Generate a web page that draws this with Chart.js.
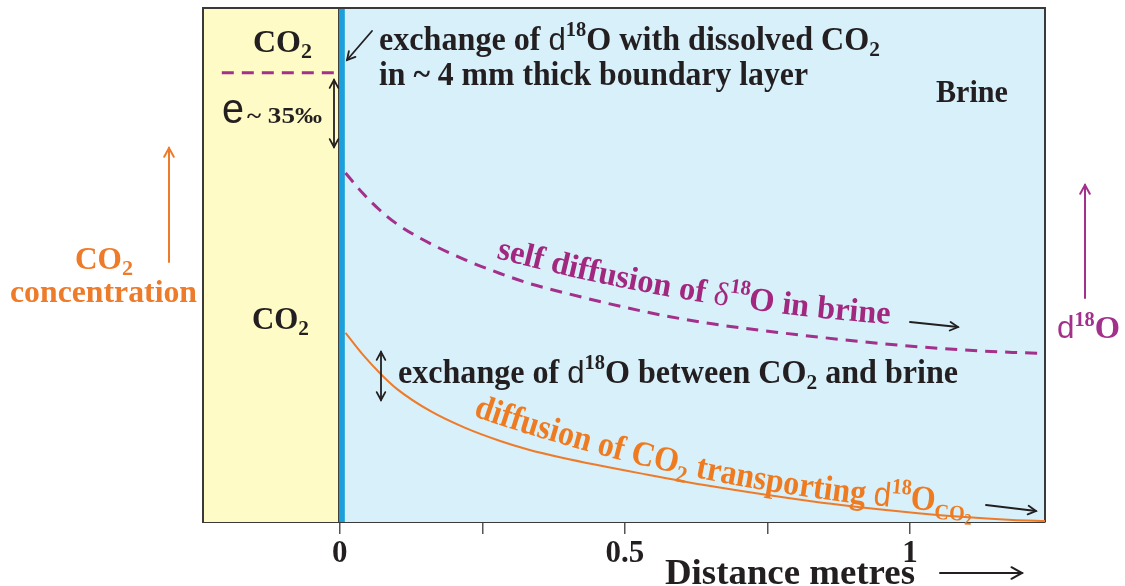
<!DOCTYPE html>
<html>
<head>
<meta charset="utf-8">
<script src="https://cdn.jsdelivr.net/npm/chart.js@4/dist/chart.umd.min.js"></script>
<style>
  html, body { margin: 0; padding: 0; background: #fff; }
</style>
</head>
<body>
<canvas id="diffChart" width="1125" height="586"></canvas>
<script>
// distance from the CO2 / brine interface (metres)
const distance = [0.01, 0.04, 0.07, 0.10, 0.16, 0.22, 0.28, 0.33, 0.39, 0.54, 0.65, 0.83, 0.98, 1.09, 1.18, 1.24];
// d18O of brine (relative units, dashed curve)
const d18oBrine = [67.9, 64.0, 60.7, 58.0, 54.1, 51.0, 48.4, 46.5, 44.7, 40.8, 38.6, 36.1, 34.4, 33.5, 33.0, 32.8];
// CO2 concentration (relative units, solid curve)
const co2Conc = [36.8, 32.6, 29.0, 25.9, 21.5, 18.3, 15.8, 14.1, 12.5, 9.2, 7.0, 4.0, 2.1, 1.0, 0.4, 0.2];
// d18O level of the gas phase CO2 (dashed line in the CO2 zone)
const gasX = [-0.207, -0.004];
const gasD18o = [87.4, 87.4];

const xTicks = [0, 0.25, 0.5, 0.75, 1];
const xTickLabels = ['0', '', '0.5', '', '1'];
const xMin = -0.24, xMax = 1.237;
const interfaceX = 0;

const PURPLE = '#a3308a';
const ORANGE = '#ee7b2a';
const INK = '#231f20';
const SERIF = '"Liberation Serif", "Times New Roman", serif';
const SANS = '"Liberation Sans", Arial, sans-serif';

function bold(px) { return 'bold ' + px + 'px ' + SERIF; }
function sans(px) { return px + 'px ' + SANS; }

// draw a row of text pieces (super / subscripts), squeezed to a width
function drawRich(ctx, runs, x, y, width, color) {
  let w = 0;
  runs.forEach(r => { ctx.font = r.font; w += ctx.measureText(r.t).width; });
  const sx = width ? width / w : 1;
  ctx.save();
  ctx.translate(x, y);
  ctx.scale(sx, 1);
  let cx = 0;
  runs.forEach(r => {
    ctx.font = r.font;
    ctx.fillStyle = r.color || color;
    ctx.fillText(r.t, cx, r.dy || 0);
    cx += ctx.measureText(r.t).width;
  });
  ctx.restore();
}

// text that bends along a gentle arc (angle goes from a0 to a1 degrees)
function drawOnArc(ctx, runs, x, y, a0, a1, length, color) {
  const chars = [];
  runs.forEach(r => {
    ctx.font = r.font;
    for (const ch of r.t) chars.push({ ch, font: r.font, dy: r.dy || 0, w: ctx.measureText(ch).width });
  });
  const total = chars.reduce((s, c) => s + c.w, 0);
  const sx = length / total;
  let px = x, py = y, s = 0;
  chars.forEach(c => {
    const w = c.w * sx;
    const a = (a0 + (a1 - a0) * (s + w / 2) / length) * Math.PI / 180;
    ctx.save();
    ctx.translate(px, py);
    ctx.rotate(a);
    ctx.scale(sx, 1);
    ctx.font = c.font;
    ctx.fillStyle = color;
    ctx.fillText(c.ch, 0, c.dy);
    ctx.restore();
    px += w * Math.cos(a);
    py += w * Math.sin(a);
    s += w;
  });
}

function arrowHead(ctx, x1, y1, x2, y2, size) {
  const a = Math.atan2(y2 - y1, x2 - x1);
  ctx.beginPath();
  ctx.moveTo(x2 - size * Math.cos(a - 0.5), y2 - size * Math.sin(a - 0.5));
  ctx.lineTo(x2, y2);
  ctx.lineTo(x2 - size * Math.cos(a + 0.5), y2 - size * Math.sin(a + 0.5));
  ctx.stroke();
}

function arrow(ctx, x1, y1, x2, y2, color, lw, size, both) {
  ctx.save();
  ctx.strokeStyle = color;
  ctx.lineWidth = lw;
  ctx.lineCap = 'round';
  ctx.beginPath();
  ctx.moveTo(x1, y1);
  ctx.lineTo(x2, y2);
  ctx.stroke();
  arrowHead(ctx, x1, y1, x2, y2, size);
  if (both) arrowHead(ctx, x2, y2, x1, y1, size);
  ctx.restore();
}

const zonesPlugin = {
  id: 'zones',
  beforeDatasetsDraw(chart) {
    const { ctx, chartArea: a, scales: { x } } = chart;
    const x0 = x.getPixelForValue(interfaceX);
    ctx.save();
    ctx.fillStyle = '#fefbc7';
    ctx.fillRect(a.left, a.top, x0 - a.left, a.bottom - a.top);
    ctx.fillStyle = '#d7f0fa';
    ctx.fillRect(x0, a.top, a.right - x0, a.bottom - a.top);
    // boundary layer
    ctx.fillStyle = '#1c9fdb';
    ctx.fillRect(x0, a.top, 5, a.bottom - a.top);
    ctx.strokeStyle = '#333';
    ctx.lineWidth = 1.5;
    ctx.beginPath();
    ctx.moveTo(x0 - 1, a.top);
    ctx.lineTo(x0 - 1, a.bottom);
    ctx.stroke();
    // frame
    ctx.strokeStyle = '#3a3a3a';
    ctx.lineWidth = 2;
    ctx.beginPath();
    ctx.moveTo(a.left, a.bottom);
    ctx.lineTo(a.left, a.top);
    ctx.lineTo(a.right, a.top);
    ctx.lineTo(a.right, a.bottom);
    ctx.stroke();
    ctx.restore();
  }
};

const notesPlugin = {
  id: 'notes',
  afterDraw(chart) {
    const ctx = chart.ctx;
    ctx.save();
    ctx.textBaseline = 'alphabetic';
    ctx.textAlign = 'left';

    // CO2 zone labels
    drawRich(ctx, [{ t: 'CO', font: bold(32) }, { t: '2', font: bold(22), dy: 6 }], 253, 52, 59, INK);
    drawRich(ctx, [{ t: 'CO', font: bold(32) }, { t: '2', font: bold(22), dy: 6 }], 252, 329, 57, INK);

    // boundary layer notes
    drawRich(ctx, [
      { t: 'exchange of ', font: bold(33) },
      { t: 'd', font: sans(32) },
      { t: '18', font: bold(21), dy: -14 },
      { t: 'O with dissolved CO', font: bold(33) },
      { t: '2', font: bold(22), dy: 6 }
    ], 379, 50, 501, INK);
    drawRich(ctx, [{ t: 'in ~ 4 mm thick boundary layer', font: bold(33) }], 379, 85, 429, INK);
    drawRich(ctx, [{ t: 'Brine', font: bold(31) }], 936, 102, 72, INK);

    // fractionation
    drawRich(ctx, [{ t: 'e', font: sans(42) }], 222, 123, 22, INK);
    drawRich(ctx, [{ t: '~ 35‰', font: bold(23) }], 247, 123, 75, INK);
    arrow(ctx, 334, 80, 334, 147, INK, 1.8, 9, true);
    arrow(ctx, 372, 31, 347, 60, INK, 1.8, 9, false);

    // exchange between CO2 and brine
    drawRich(ctx, [
      { t: 'exchange of ', font: bold(33) },
      { t: 'd', font: sans(32) },
      { t: '18', font: bold(21), dy: -14 },
      { t: 'O between CO', font: bold(33) },
      { t: '2', font: bold(22), dy: 6 },
      { t: ' and brine', font: bold(33) }
    ], 398, 383, 560, INK);
    arrow(ctx, 381, 352, 381, 400, INK, 1.8, 9, true);

    // curve labels
    drawOnArc(ctx, [
      { t: 'self diffusion of ', font: bold(33) },
      { t: 'δ', font: 33 + 'px ' + SERIF },
      { t: '18', font: bold(21), dy: -14 },
      { t: 'O in brine', font: bold(33) }
    ], 496, 258, 15, 4, 400, '#a2287f');
    arrow(ctx, 910, 322, 958, 327, INK, 1.8, 9, false);

    drawOnArc(ctx, [
      { t: 'diffusion of CO', font: bold(35) },
      { t: '2', font: bold(24), dy: 8 },
      { t: ' transporting ', font: bold(35) },
      { t: 'd', font: sans(34) },
      { t: '18', font: bold(22), dy: -14 },
      { t: 'O', font: bold(35) },
      { t: 'CO', font: bold(22), dy: 8 },
      { t: '2', font: bold(16), dy: 12 }
    ], 473, 416, 19, 3, 510, '#ef7b21');
    arrow(ctx, 986, 505, 1036, 511, INK, 1.8, 9, false);

    // outer axis labels
    drawRich(ctx, [{ t: 'CO', font: bold(31) }, { t: '2', font: bold(22), dy: 6 }], 75, 269, 58, ORANGE);
    drawRich(ctx, [{ t: 'concentration', font: bold(31) }], 10, 302, 187, ORANGE);
    arrow(ctx, 169, 262, 169, 148, ORANGE, 2, 10, false);

    drawRich(ctx, [
      { t: 'd', font: sans(31) },
      { t: '18', font: bold(20), dy: -12 },
      { t: 'O', font: bold(32) }
    ], 1057, 338, 63, PURPLE);
    arrow(ctx, 1085, 298, 1085, 185, PURPLE, 2, 10, false);

    drawRich(ctx, [{ t: 'Distance metres', font: bold(36) }], 665, 584, 250, INK);
    arrow(ctx, 940, 573, 1022, 573, INK, 2, 12, false);

    ctx.restore();
  }
};

const ctx = document.getElementById('diffChart').getContext('2d');

new Chart(ctx, {
  type: 'line',
  data: {
    datasets: [
      {
        label: 'd18O brine',
        data: distance.map((x, i) => ({ x, y: d18oBrine[i] })),
        borderColor: PURPLE,
        borderWidth: 3,
        borderDash: [12, 8],
        pointRadius: 0,
        cubicInterpolationMode: 'monotone'
      },
      {
        label: 'CO2',
        data: distance.map((x, i) => ({ x, y: co2Conc[i] })),
        borderColor: ORANGE,
        borderWidth: 2,
        pointRadius: 0,
        cubicInterpolationMode: 'monotone'
      },
      {
        label: 'gas d18O',
        data: gasX.map((x, i) => ({ x, y: gasD18o[i] })),
        borderColor: PURPLE,
        borderWidth: 3,
        borderDash: [12, 8],
        pointRadius: 0
      }
    ]
  },
  options: {
    responsive: false,
    animation: false,
    layout: { padding: { left: 203, right: 80, top: 8, bottom: 0 } },
    plugins: { legend: { display: false }, tooltip: { enabled: false } },
    scales: {
      x: {
        type: 'linear',
        min: xMin,
        max: xMax,
        afterBuildTicks: s => { s.ticks = xTicks.map(v => ({ value: v })); },
        afterFit: s => { s.height = 64; },
        ticks: {
          autoSkip: false,
          maxRotation: 0,
          padding: 1,
          color: INK,
          font: { family: SERIF, size: 31, weight: 'bold' },
          callback: (v, i) => xTickLabels[i]
        },
        grid: { drawOnChartArea: false, drawTicks: true, tickLength: 12, color: '#555', lineWidth: 1.5 },
        border: { display: true, color: '#3a3a3a', width: 2 }
      },
      y: { display: false, min: 0, max: 100 }
    }
  },
  plugins: [zonesPlugin, notesPlugin]
});
</script>
</body>
</html>
